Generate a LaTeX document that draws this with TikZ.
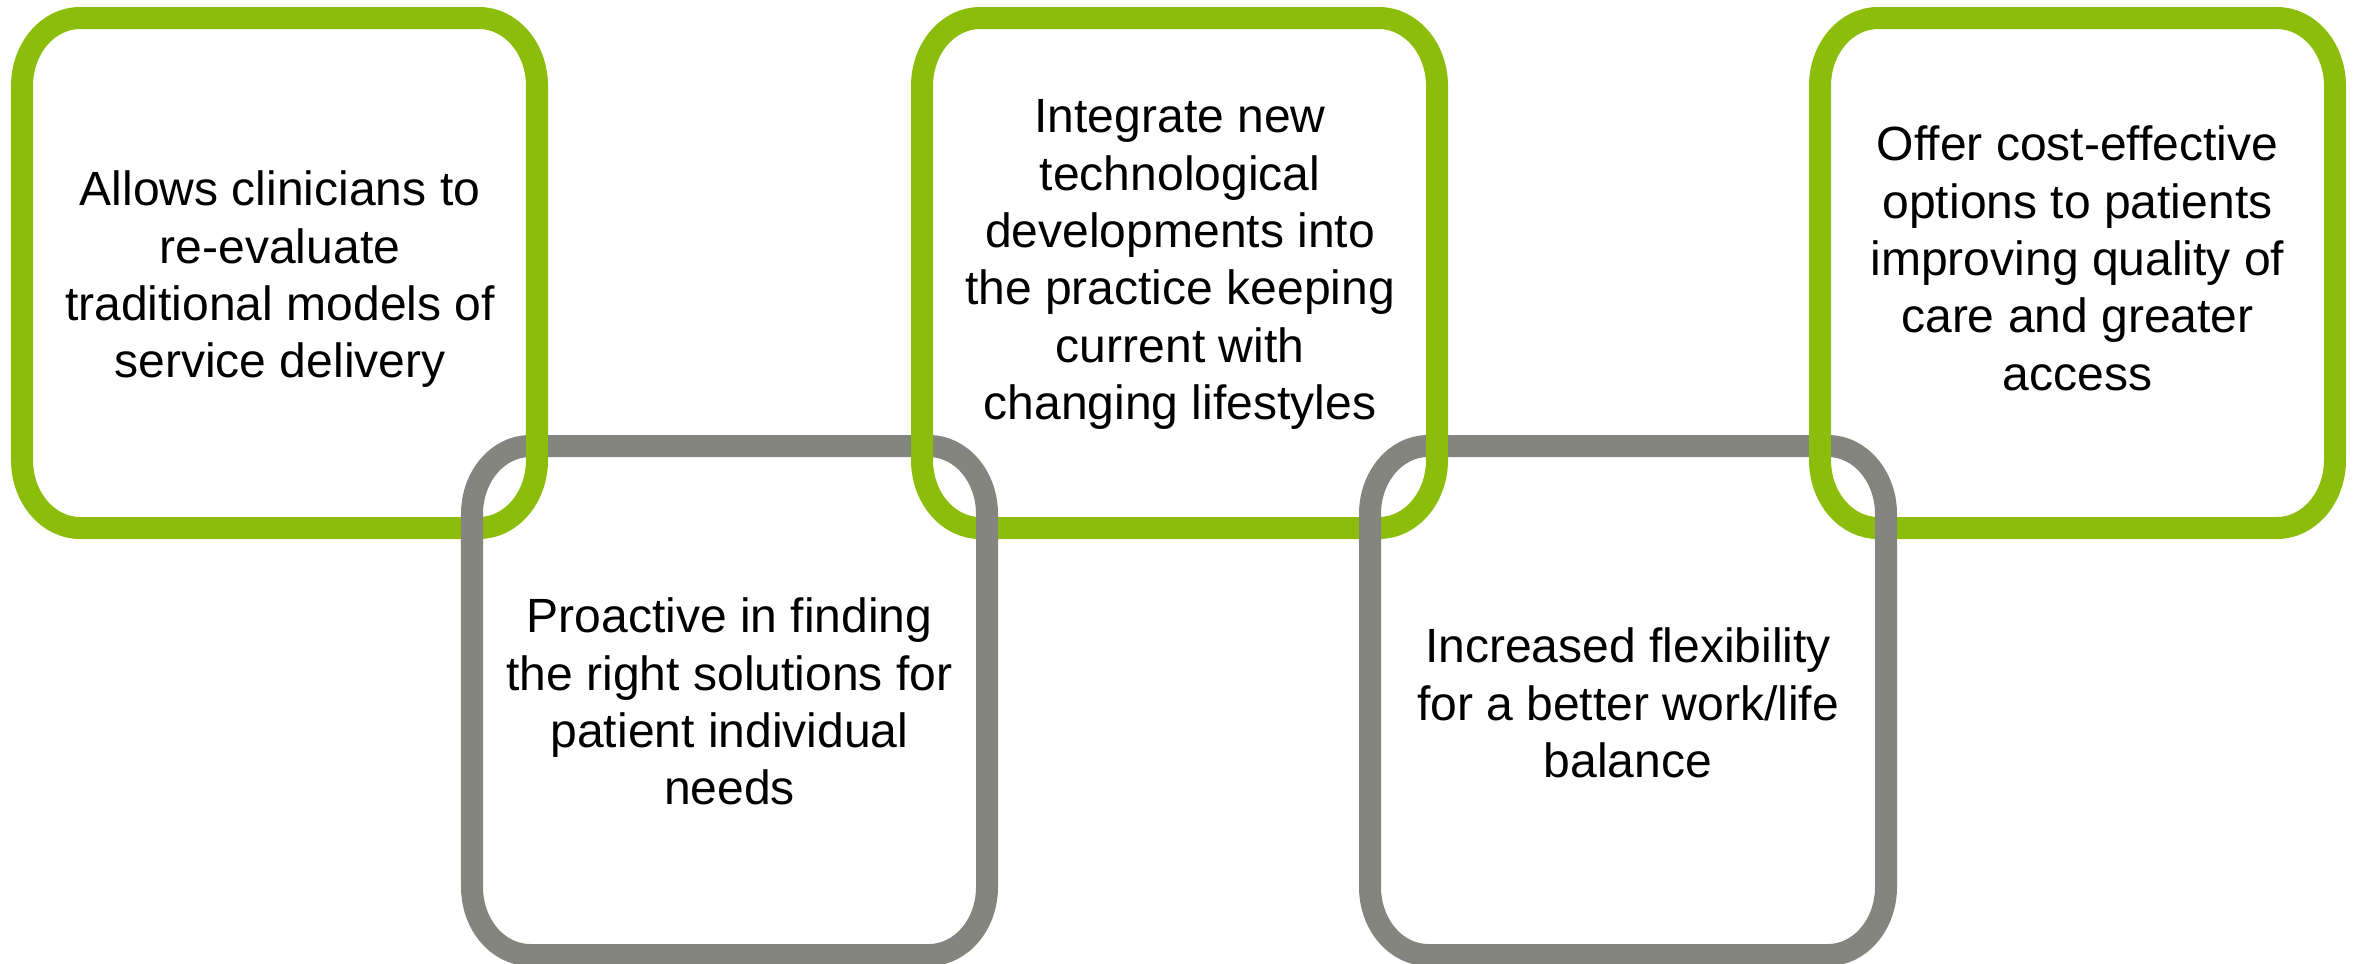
\documentclass[tikz,border=0pt]{standalone}
\usepackage{fontspec}
\setmainfont{Liberation Sans}
\definecolor{boxgreen}{RGB}{140,189,10}
\definecolor{boxgray}{RGB}{133,133,128}
\newcommand\rrect[5]{%
  \draw[#1] (#2+58,#3) -- (#4-58,#3)
    .. controls (#4-26,#3) and (#4,#3+30.4) .. (#4,#3+68)
    -- (#4,#5-68)
    .. controls (#4,#5-30.4) and (#4-26,#5) .. (#4-58,#5)
    -- (#2+58,#5)
    .. controls (#2+26,#5) and (#2,#5-30.4) .. (#2,#5-68)
    -- (#2,#3+68)
    .. controls (#2,#3+30.4) and (#2+26,#3) .. (#2+58,#3) -- cycle;}
\tikzset{
  greenline/.style={draw=boxgreen, line width=0.22cm},
  grayline/.style={draw=boxgray, line width=0.22cm},
  label/.style={anchor=north, inner sep=0pt, align=center, text=black,
    font=\fontsize{13.66pt}{16.33pt}\selectfont}
}
\begin{document}
\begin{tikzpicture}[x=0.01cm, y=-0.01cm]
\useasboundingbox (0,0) rectangle (2357,963);
% green boxes
\rrect{greenline}{22}{18}{537}{528}
\rrect{greenline}{922}{18}{1437}{528}
\rrect{greenline}{1820}{18}{2335}{528}
% gray boxes
\rrect{grayline}{472}{446}{987}{955}
\rrect{grayline}{1370}{446}{1886}{955}
% green over gray at the upper crossings
\foreach \gx in {537,922,1437,1820}
  \draw[greenline, line cap=butt] (\gx,415) -- (\gx,460);
% texts
\node[label] (t1) at (280,164.8) {\strut Allows clinicians to\\re-evaluate\\traditional models of\\service delivery};
\node[label] (t2) at (729.5,591.8) {\strut Proactive in finding\\the right solutions for\\patient individual\\needs};
\node[label] (t3) at (1180,91.8) {\strut Integrate new\\technological\\developments into\\the practice keeping\\current with\\changing lifestyles};
\node[label] (t4) at (1628,621.8) {\strut Increased flexibility\\for a better work/life\\balance};
\node[label] (t5) at (2077.5,119.8) {\strut Offer cost-effective\\options to patients\\improving quality of\\care and greater\\access};
\end{tikzpicture}
\end{document}
